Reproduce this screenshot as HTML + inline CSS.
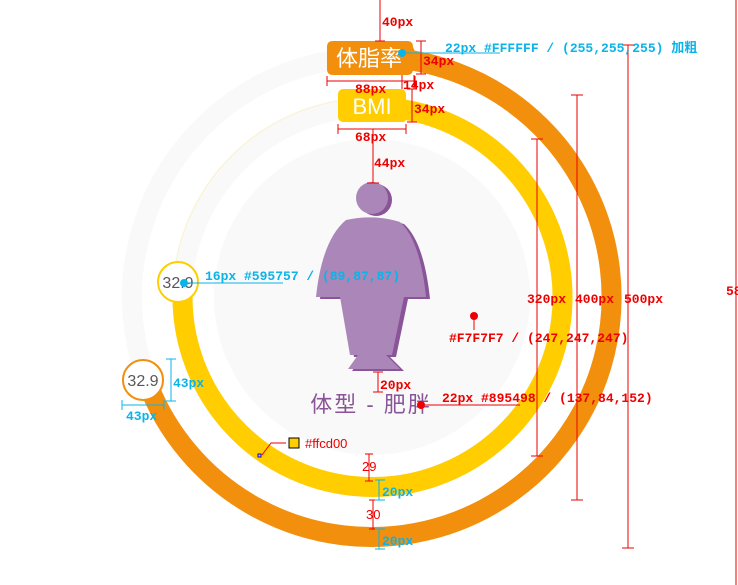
<!DOCTYPE html>
<html><head><meta charset="utf-8"><style>
html,body{margin:0;padding:0;background:#fff;}
svg{display:block;}
.a{font-family:"Liberation Mono",monospace;font-weight:bold;font-size:13px;}
</style></head><body>
<svg width="738" height="585" viewBox="0 0 738 585" xmlns="http://www.w3.org/2000/svg">
<circle cx="372" cy="297" r="240" fill="none" stroke="#f9f9f9" stroke-width="20"/>
<circle cx="372" cy="297" r="190" fill="none" stroke="#f9f9f9" stroke-width="20"/>
<circle cx="372" cy="297" r="199" fill="none" stroke="#fdf0c0" stroke-width="0.8"/>
<circle cx="372" cy="297" r="158" fill="#f7f7f7" opacity="0.75"/>
<path d="M372 57 A240 240 0 1 1 146 379" fill="none" stroke="#f28f0c" stroke-width="20"/>
<path d="M372 107 A190 190 0 1 1 183 284" fill="none" stroke="#ffcd00" stroke-width="20"/>
<circle cx="143" cy="380" r="20" fill="#fff" stroke="#f28f0c" stroke-width="2"/>
<text x="143" y="386" font-family="Liberation Sans,sans-serif" font-size="16" fill="#595757" text-anchor="middle">32.9</text>
<circle cx="178" cy="282" r="20" fill="#fff" stroke="#ffcd00" stroke-width="2"/>
<text x="178" y="288" font-family="Liberation Sans,sans-serif" font-size="16" fill="#595757" text-anchor="middle">32.9</text>
<path d="M333 41 H407 Q413 41 413 47 L417 56 L413 62 V69 Q413 75 407 75 H333 Q327 75 327 69 V47 Q327 41 333 41Z" fill="#f28f0c"/>
<text x="369" y="66" font-family="Liberation Sans,'Noto Sans CJK SC',sans-serif" font-size="22" fill="#fff" text-anchor="middle">体脂率</text>
<path d="M344 89 H400 Q406 89 406 95 V111 L410 116 L404 122 H344 Q338 122 338 116 V95 Q338 89 344 89Z" fill="#ffcd00"/>
<text x="372" y="114" font-family="Liberation Sans,sans-serif" font-size="22" fill="#fff" text-anchor="middle">BMI</text>
<!-- figure -->
<g fill="#895498" transform="translate(4,2)">
<circle cx="372" cy="198" r="16"/>
<path d="M346 220 Q374 214 400 222 Q420 240 426 297 L404 297 L392 355 L350 355 L340 297 L316 297 Q322 240 346 220Z"/>
<path d="M358 355 L386 355 L400 369 L348 369Z"/>
</g>
<circle cx="372" cy="198" r="16" fill="#ab87b9"/>
<path d="M346 220 Q374 214 400 222 Q420 240 426 297 L404 297 L392 355 L350 355 L340 297 L316 297 Q322 240 346 220Z" fill="#ab87b9"/>
<path d="M358 355 L386 355 L400 369 L348 369Z" fill="#ab87b9"/>
<text x="371" y="412" font-family="Liberation Sans,'Noto Sans CJK SC',sans-serif" font-size="22" letter-spacing="2" fill="#895498" text-anchor="middle">体型 - 肥胖</text>
<g stroke="#e00" stroke-width="1" fill="none">
<line x1="380" y1="0" x2="380" y2="41"/><line x1="375" y1="41" x2="385" y2="41"/>
<line x1="421" y1="41" x2="421" y2="74"/><line x1="416" y1="41" x2="426" y2="41"/><line x1="416" y1="74" x2="426" y2="74"/>
<line x1="402" y1="75" x2="402" y2="89"/><line x1="414" y1="75" x2="414" y2="89"/>
<line x1="327" y1="81" x2="415" y2="81"/><line x1="327" y1="76" x2="327" y2="86"/><line x1="415" y1="76" x2="415" y2="86"/>
<line x1="412" y1="89" x2="412" y2="122"/><line x1="407" y1="89" x2="417" y2="89"/><line x1="407" y1="122" x2="417" y2="122"/>
<line x1="338" y1="129" x2="406" y2="129"/><line x1="338" y1="124" x2="338" y2="134"/><line x1="406" y1="124" x2="406" y2="134"/>
<line x1="373" y1="129" x2="373" y2="183"/><line x1="367" y1="183" x2="379" y2="183"/>
<line x1="378" y1="372" x2="378" y2="392"/><line x1="373" y1="372" x2="383" y2="372"/><line x1="373" y1="392" x2="383" y2="392"/>
<line x1="421" y1="405" x2="520" y2="405"/>
<line x1="474" y1="316" x2="474" y2="330"/>
<line x1="537" y1="139" x2="537" y2="456"/><line x1="531" y1="139" x2="543" y2="139"/><line x1="531" y1="456" x2="543" y2="456"/>
<line x1="577" y1="95" x2="577" y2="500"/><line x1="571" y1="95" x2="583" y2="95"/><line x1="571" y1="500" x2="583" y2="500"/>
<line x1="628" y1="45" x2="628" y2="548"/><line x1="622" y1="45" x2="634" y2="45"/><line x1="622" y1="548" x2="634" y2="548"/>
<line x1="736" y1="0" x2="736" y2="585"/>
<line x1="369" y1="454" x2="369" y2="481"/><line x1="365" y1="454" x2="373" y2="454"/><line x1="365" y1="481" x2="373" y2="481"/>
<line x1="373" y1="500" x2="373" y2="529"/><line x1="369" y1="500" x2="377" y2="500"/><line x1="369" y1="529" x2="377" y2="529"/>
<polyline points="286,443 271,443 262,455"/>
</g>
<circle cx="421" cy="405" r="4" fill="#e00"/>
<circle cx="474" cy="316" r="4" fill="#e00"/>
<rect x="289" y="438" width="10" height="10" fill="#ffcd00" stroke="#000" stroke-width="1"/>
<rect x="258" y="454" width="3" height="3" fill="none" stroke="#00f" stroke-width="1"/>
<g class="a" fill="#e00">
<text x="382" y="26">40px</text>
<text x="423" y="65">34px</text>
<text x="403" y="89">14px</text>
<text x="355" y="93">88px</text>
<text x="414" y="113">34px</text>
<text x="355" y="141">68px</text>
<text x="374" y="167">44px</text>
<text x="380" y="389">20px</text>
<text x="442" y="402">22px #895498 / (137,84,152)</text>
<text x="449" y="342">#F7F7F7 / (247,247,247)</text>
<text x="527" y="303">320px</text>
<text x="575" y="303">400px</text>
<text x="624" y="303">500px</text>
<text x="726" y="295">58</text>
</g>
<g font-family="Liberation Sans,sans-serif" font-size="13" fill="#e00">
<text x="305" y="448">#ffcd00</text>
<text x="362" y="471">29</text>
<text x="366" y="519">30</text>
</g>
<g stroke="#0ab4e8" stroke-width="1" fill="none">
<line x1="402" y1="53" x2="500" y2="53"/>
<line x1="184" y1="283" x2="283" y2="283"/>
<line x1="171" y1="359" x2="171" y2="401"/><line x1="166" y1="359" x2="176" y2="359"/><line x1="166" y1="401" x2="176" y2="401"/>
<line x1="122" y1="405" x2="164" y2="405"/><line x1="122" y1="400" x2="122" y2="410"/><line x1="164" y1="400" x2="164" y2="410"/>
<line x1="379" y1="480" x2="379" y2="500"/><line x1="375" y1="480" x2="385" y2="480"/><line x1="375" y1="500" x2="385" y2="500"/>
<line x1="379" y1="529" x2="379" y2="549"/><line x1="375" y1="529" x2="385" y2="529"/><line x1="375" y1="549" x2="385" y2="549"/>
</g>
<circle cx="402" cy="53" r="4" fill="#0ab4e8"/>
<circle cx="184" cy="283" r="4" fill="#0ab4e8"/>
<g class="a" fill="#0ab4e8">
<text x="445" y="52">22px #FFFFFF / (255,255,255) <tspan font-family="'Noto Sans CJK SC',sans-serif">加粗</tspan></text>
<text x="205" y="280">16px #595757 / (89,87,87)</text>
<text x="173" y="387">43px</text>
<text x="126" y="420">43px</text>
<text x="382" y="496">20px</text>
<text x="382" y="545">20px</text>
</g>
</svg>
</body></html>
